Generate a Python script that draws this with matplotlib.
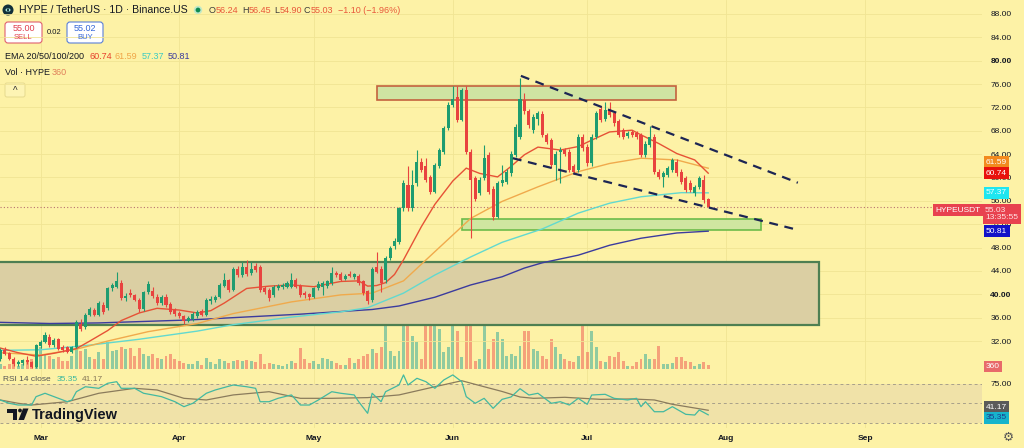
import numpy as np
import pandas as pd
import matplotlib
matplotlib.use("Agg")
import matplotlib.pyplot as plt
import matplotlib.dates as mdates
from matplotlib.patches import Rectangle, FancyBboxPatch, Circle, Polygon, Ellipse

plt.rcParams['font.family'] = ['Liberation Sans', 'DejaVu Sans']

# ---------------- data ----------------
START = "2025-02-20"
OPEN = [28.9, 30.5, 29.9, 29.0, 28.1, 28.2, 28.8, 28.4, 27.6, 31.2,
        31.9, 32.7, 31.3, 32.3, 31.0, 30.9, 30.2, 31.0, 35.0, 34.4,
        36.5, 37.3, 36.5, 38.2, 37.6, 41.0, 41.3, 42.0, 39.3, 40.3,
        39.8, 39.0, 37.4, 40.4, 40.6, 39.6, 38.5, 39.6, 38.3, 37.3,
        36.8, 36.3, 35.5, 35.8, 36.2, 37.2, 36.5, 38.8, 39.0, 39.6,
        41.5, 42.4, 40.7, 44.4, 43.3, 44.6, 43.6, 44.8, 44.7, 41.0,
        40.8, 39.8, 41.0, 41.2, 41.3, 41.3, 42.5, 41.5, 40.3, 40.0,
        39.6, 41.0, 41.3, 41.4, 41.9, 43.7, 43.5, 42.7, 43.4, 43.0,
        43.1, 42.2, 40.5, 39.0, 44.7, 44.4, 42.4, 46.2, 48.2, 49.0,
        54.7, 58.7, 54.7, 59.0, 62.7, 61.9, 60.1, 57.6, 61.9, 64.4,
        68.4, 72.4, 73.8, 69.9, 74.9, 64.4, 59.9, 57.4, 59.9, 63.9,
        58.1, 53.3, 59.0, 59.3, 60.7, 63.9, 67.0, 73.3, 71.3, 68.1,
        70.1, 70.9, 67.3, 66.4, 62.1, 64.4, 64.7, 64.4, 61.9, 61.3,
        67.0, 65.3, 62.4, 67.0, 71.8, 70.1, 71.6, 71.0, 69.6, 68.1,
        67.1, 67.8, 67.6, 67.3, 63.9, 65.6, 67.0, 61.0, 60.1, 60.4,
        61.3, 62.7, 61.0, 59.9, 59.0, 57.3, 58.4, 59.6, 56.24]
HIGH = [30.8, 30.9, 30.2, 29.2, 28.7, 28.9, 29.4, 28.6, 31.5, 32.2,
        33.6, 33.2, 32.5, 32.6, 31.3, 31.1, 31.2, 35.6, 35.8, 36.8,
        37.8, 37.6, 38.8, 38.6, 41.2, 42.0, 43.9, 42.5, 40.2, 40.9,
        40.1, 39.3, 40.6, 42.2, 41.2, 40.0, 39.8, 40.0, 38.6, 37.6,
        37.2, 36.5, 36.3, 36.9, 37.3, 37.5, 39.3, 39.7, 39.9, 41.9,
        43.6, 42.7, 44.6, 44.9, 45.6, 45.9, 45.5, 45.3, 45.0, 41.4,
        41.1, 41.6, 41.7, 41.9, 42.2, 43.6, 42.8, 41.8, 40.6, 40.3,
        41.3, 42.2, 42.2, 42.5, 44.7, 44.0, 43.8, 43.5, 44.0, 43.7,
        43.4, 42.5, 40.8, 44.7, 47.2, 44.8, 46.5, 48.3, 49.6, 55.0,
        59.5, 61.9, 61.3, 64.7, 63.3, 63.3, 60.5, 62.5, 65.1, 68.8,
        72.9, 75.6, 75.6, 75.4, 75.6, 64.8, 60.3, 60.0, 65.6, 64.3,
        58.5, 59.4, 62.2, 61.4, 64.5, 69.1, 77.0, 74.5, 71.8, 70.8,
        71.4, 71.3, 67.7, 66.8, 64.5, 65.2, 65.1, 64.8, 62.3, 67.4,
        67.4, 65.7, 67.4, 71.4, 72.2, 72.9, 73.0, 71.4, 70.0, 68.5,
        68.0, 68.2, 68.0, 67.7, 66.2, 68.9, 67.4, 61.4, 61.1, 62.0,
        63.4, 63.1, 61.4, 60.3, 59.6, 58.8, 60.3, 60.5, 56.45]
LOW = [28.6, 29.6, 28.7, 27.7, 27.8, 27.9, 28.0, 27.3, 27.4, 30.8,
       31.6, 31.0, 30.9, 30.5, 30.2, 29.9, 29.9, 30.8, 33.7, 34.1,
       36.2, 36.2, 36.3, 36.7, 37.3, 40.6, 41.0, 39.0, 38.8, 39.5,
       38.8, 37.0, 37.1, 40.1, 39.4, 38.2, 38.1, 37.9, 36.6, 36.2,
       35.9, 35.0, 35.2, 35.5, 35.9, 36.2, 36.3, 38.4, 38.6, 39.3,
       41.2, 40.4, 40.5, 43.0, 43.0, 43.2, 43.3, 43.8, 40.4, 40.1,
       38.9, 39.5, 40.7, 40.9, 41.0, 41.0, 41.0, 39.6, 39.4, 39.0,
       39.3, 40.7, 39.9, 41.1, 41.6, 43.0, 42.2, 42.4, 42.9, 42.7,
       41.6, 39.9, 38.3, 38.7, 43.6, 40.4, 42.0, 45.9, 47.8, 48.6,
       54.3, 54.3, 54.2, 58.6, 60.9, 59.2, 57.2, 57.3, 61.6, 64.1,
       68.1, 72.0, 69.5, 69.6, 64.0, 49.6, 56.0, 57.0, 59.5, 57.2,
       52.7, 53.0, 58.6, 58.9, 60.3, 63.5, 66.6, 70.9, 68.4, 67.7,
       69.0, 66.9, 65.7, 61.7, 59.6, 59.0, 63.7, 60.9, 60.6, 60.9,
       64.6, 62.0, 62.0, 66.6, 69.5, 69.7, 70.3, 68.9, 66.9, 66.6,
       66.7, 66.9, 66.6, 63.5, 63.5, 65.2, 60.6, 59.7, 58.4, 60.0,
       60.9, 60.3, 58.9, 57.5, 57.5, 56.9, 58.0, 55.7, 54.90]
CLOSE = [30.5, 29.8, 28.9, 28.0, 28.4, 28.7, 28.4, 27.6, 31.3, 31.9,
         33.0, 31.3, 32.2, 30.7, 30.5, 30.2, 31.0, 35.3, 34.0, 36.5,
         37.4, 36.5, 38.5, 37.0, 41.0, 41.6, 42.2, 39.3, 39.7, 39.8,
         39.0, 37.4, 40.4, 41.8, 39.7, 38.5, 39.5, 38.2, 36.9, 36.6,
         36.3, 35.4, 36.0, 36.6, 37.0, 36.5, 39.0, 39.2, 39.6, 41.6,
         42.4, 40.7, 44.4, 43.3, 44.7, 43.5, 44.4, 44.1, 40.7, 40.4,
         39.3, 41.3, 41.4, 41.6, 41.9, 42.5, 41.3, 39.9, 39.8, 39.5,
         41.0, 41.8, 41.9, 42.2, 43.6, 43.3, 42.5, 43.2, 43.1, 43.4,
         41.9, 40.2, 38.9, 44.3, 43.9, 41.9, 46.2, 47.9, 49.1, 54.7,
         59.0, 54.7, 58.7, 62.7, 61.3, 59.6, 57.6, 62.1, 64.7, 68.4,
         72.4, 73.5, 69.9, 75.0, 64.4, 59.6, 56.4, 59.6, 63.3, 57.6,
         53.3, 59.0, 59.6, 61.0, 64.1, 68.7, 73.5, 71.3, 69.0, 70.4,
         71.0, 67.3, 66.1, 62.1, 64.1, 64.7, 64.1, 61.3, 61.0, 67.0,
         65.0, 62.4, 67.0, 71.0, 69.9, 71.6, 70.7, 69.3, 67.3, 67.0,
         67.6, 67.3, 67.0, 63.9, 65.8, 67.0, 61.0, 60.1, 60.7, 61.6,
         63.0, 60.7, 59.3, 57.9, 57.9, 58.4, 59.9, 56.1, 55.03]
VOLUME = [450, 270, 450, 900, 270, 450, 630, 900, 1350, 1980,
          1350, 1170, 900, 1080, 720, 720, 1170, 2430, 1620, 1800,
          1080, 900, 1530, 900, 2430, 1620, 1710, 1980, 1800, 1890,
          1170, 1890, 1350, 1170, 1350, 990, 900, 1170, 1350, 900,
          720, 540, 450, 450, 720, 360, 990, 630, 450, 900,
          720, 540, 720, 810, 720, 810, 720, 630, 1350, 450,
          540, 450, 360, 270, 450, 720, 540, 1890, 900, 540,
          720, 450, 990, 900, 720, 540, 360, 360, 990, 540,
          900, 1170, 1350, 1800, 1440, 1980, 7380, 1620, 1170, 1620,
          8280, 8280, 2970, 2430, 900, 5850, 4950, 6480, 3600, 1530,
          1980, 7920, 3420, 1080, 7650, 7020, 720, 900, 5400, 1800,
          2700, 3330, 2700, 1170, 1350, 1170, 2070, 3420, 3420, 1800,
          1620, 1170, 900, 2700, 1980, 1350, 900, 720, 630, 1170,
          5670, 1530, 3420, 1980, 720, 630, 1170, 1080, 1530, 720,
          270, 270, 630, 900, 1350, 900, 900, 2070, 450, 450,
          540, 1080, 1080, 720, 630, 270, 450, 630, 360]

EMA20_DAYS = [0, 4, 8, 12, 17, 20, 24, 27, 31, 35, 40, 44, 47, 50, 55, 60, 65, 70, 76, 80,
              82, 84, 86, 88, 90, 94, 97, 101, 104, 107, 111, 114, 117, 120, 125, 129, 132,
              136, 141, 143, 147, 151, 155, 158]
EMA20_VALS = [30.8, 30.0, 29.4, 29.9, 30.7, 32.0, 33.8, 35.5, 36.8, 37.6, 37.3, 36.8, 37.2,
              38.5, 41.0, 41.4, 41.6, 41.3, 42.2, 42.3, 41.4, 41.5, 42.0, 43.4, 45.9, 51.6,
              55.4, 59.4, 61.6, 60.7, 60.1, 61.9, 63.9, 65.2, 64.7, 65.3, 66.4, 67.8, 68.1,
              67.3, 65.8, 64.1, 63.0, 60.74]
EMA50_DAYS = [0, 9, 17, 24, 33, 44, 52, 65, 76, 83, 90, 97, 105, 112, 120, 129, 136, 143, 151, 158]
EMA50_VALS = [30.0, 29.6, 30.6, 32.0, 33.6, 35.0, 36.7, 38.7, 39.9, 40.2, 42.3, 47.3, 53.0,
              55.9, 58.4, 61.0, 62.4, 63.3, 63.0, 61.59]
EMA100_DAYS = [0, 9, 20, 31, 44, 52, 65, 76, 82, 90, 97, 105, 112, 121, 129, 136, 143, 152, 158]
EMA100_VALS = [30.4, 30.5, 31.3, 32.3, 33.7, 34.8, 36.1, 37.0, 37.7, 40.2, 43.3, 46.4, 48.9,
               51.2, 53.9, 55.6, 56.7, 57.4, 57.37]
EMA200_DAYS = [0, 11, 22, 42, 67, 83, 89, 97, 105, 112, 117, 121, 129, 136, 143, 151, 158]
EMA200_VALS = [35.2, 35.0, 35.1, 35.6, 36.6, 37.4, 38.0, 39.5, 41.6, 43.0, 44.5, 45.4, 46.7,
               48.4, 49.6, 50.5, 50.81]

RSI_DAYS = [0, 2, 4, 7, 8, 10, 13, 15, 16, 17, 19, 22, 24, 26, 27, 30, 32, 34, 36, 39,
            41, 43, 46, 48, 52, 55, 57, 58, 60, 62, 65, 67, 69, 71, 74, 76, 79, 80, 82, 83,
            85, 86, 89, 90, 91, 93, 95, 97, 99, 101, 103, 104, 106, 108, 110, 112, 114, 116,
            118, 120, 123, 125, 127, 129, 131, 132, 135, 137, 140, 142, 143, 144, 146, 148,
            150, 153, 155, 156, 158]
RSI_VALS = [54.2, 50, 47.8, 47.8, 58.4, 62.7, 56.3, 52, 54.2, 64.7, 71, 69, 75.4, 77.4, 69,
            69, 62.7, 60.6, 58.4, 52, 45.7, 50, 62.7, 66.9, 73.2, 71, 69, 52, 52, 56.3, 60.6,
            47.8, 47.8, 54.2, 64.7, 62.7, 60.6, 52, 37.3, 62.7, 52, 64.7, 73.2, 86, 73.2,
            81.7, 77.4, 69, 79.6, 86, 77.4, 58.4, 50, 56.3, 43.6, 55, 58, 68.5, 60.5, 62.7,
            50, 52, 47.8, 56.3, 48.7, 60.5, 61.4, 56.3, 54.2, 56.3, 45.7, 52, 39.3, 39.3,
            45.7, 36, 35.1, 41.5, 35.35]
RSI_MA_DAYS = [0, 4, 7, 15, 22, 30, 35, 41, 46, 52, 60, 67, 74, 82, 89, 97, 103, 108, 112,
               116, 119, 126, 134, 141, 146, 150, 158]
RSI_MA_VALS = [54.2, 50, 47.8, 52, 62.7, 69, 66.9, 56.3, 54.2, 60.6, 64.7, 56.3, 56.3, 57.2,
               60.6, 71, 78.6, 71, 65, 58, 56.3, 57.6, 55, 55.5, 54.2, 48.7, 41.17]

MONTHS = ["2025-03-01", "2025-04-01", "2025-05-01", "2025-06-01", "2025-07-01",
          "2025-08-01", "2025-09-01"]
MONTH_LABELS = ["Mar", "Apr", "May", "Jun", "Jul", "Aug", "Sep"]
PRICE_TICKS = [32, 36, 40, 44, 48, 52, 56, 60, 64, 68, 72, 76, 80, 84, 88]

# drawings (day offset from START, price)
ZONE_TOP = (84.0, 150.8, 73.3, 75.7)
ZONE_MID = (103.1, 169.8, 51.0, 52.9)
ZONE_RANGE = (-5.0, 182.7, 34.74, 45.53)
TREND_UP = ((116.2, 77.4), (178.0, 59.1))
TREND_LO = ((114.4, 63.3), (177.6, 51.1))

# ---------------- style ----------------
BG = "#fdf2a6"
UP = "#1e9c70"
DN = "#e8433f"
W, H = 1024, 448

fig = plt.figure(figsize=(W / 100, H / 100), dpi=100, facecolor=BG)


def box(px0, py0, px1, py1):
    return [px0 / W, 1 - py1 / H, (px1 - px0) / W, (py1 - py0) / H]


vol_ax = fig.add_axes(box(0, 0, 982, 369), zorder=0)
ax = fig.add_axes(box(0, 0, 982, 369), zorder=1, sharex=vol_ax)
rsi_ax = fig.add_axes(box(0, 369, 982, 428), zorder=0, sharex=vol_ax)
vol_ax.set_facecolor(BG)
ax.set_facecolor("none")
rsi_ax.set_facecolor(BG)
for a in (vol_ax, ax, rsi_ax):
    for s in a.spines.values():
        s.set_visible(False)

base = mdates.date2num(pd.Timestamp(START))
dates = pd.date_range(START, periods=len(CLOSE), freq="D")
x = mdates.date2num(dates)
o, h, l, c = (np.array(v, dtype=float) for v in (OPEN, HIGH, LOW, CLOSE))
up = c >= o
col = np.where(up, UP, DN)

ax.set_xlim(base - 0.045, base + 219.1)
ax.set_ylim(27.21, 90.39)

# grid
month_nums = mdates.date2num(pd.to_datetime(MONTHS))
for t in PRICE_TICKS:
    ax.axhline(t, color="#f1e494", lw=0.6, zorder=0)
for m in month_nums:
    vol_ax.axvline(m, color="#f1e494", lw=0.6, zorder=0)
    rsi_ax.axvline(m, color="#f1e494", lw=0.6, zorder=0)

# volume
vcol = np.where(up, "#26a69a", "#ef5350")
vol_ax.bar(x, VOLUME, width=0.66, color=vcol, alpha=0.5, linewidth=0)
vol_ax.set_ylim(0, max(VOLUME) * 369 / 92)
vol_ax.set_yticks([])
vol_ax.tick_params(axis="x", length=0, labelbottom=False)

# zones
def zone(z, fc, ec, lw):
    ax.add_patch(Rectangle((base + z[0], z[2]), z[1] - z[0], z[3] - z[2],
                           facecolor=fc, edgecolor=ec, lw=lw, zorder=1))

zone(ZONE_RANGE, "#dbcfa3", "#4e7f52", 1.6)
zone(ZONE_TOP, "#cfe3a2", "#c4623e", 1.2)
zone(ZONE_MID, "#cfe6a0", "#6dbb4a", 1.2)

# EMAs
for days, vals, colr in ((EMA200_DAYS, EMA200_VALS, "#3b3b9e"),
                         (EMA100_DAYS, EMA100_VALS, "#62d9cf"),
                         (EMA50_DAYS, EMA50_VALS, "#f0aa4c"),
                         (EMA20_DAYS, EMA20_VALS, "#e65236")):
    ax.plot(base + np.array(days), vals, color=colr, lw=1.0, zorder=3)

# candles
ax.vlines(x, l, h, colors=col, lw=0.8, zorder=4)
ax.bar(x, np.maximum(np.abs(c - o), 0.08), bottom=np.minimum(o, c), width=0.68,
       color=col, linewidth=0, zorder=5)

# trend lines
for (p0, p1) in (TREND_UP, TREND_LO):
    ax.plot([base + p0[0], base + p1[0]], [p0[1], p1[1]], color="#1c2554", lw=1.6,
            dashes=(4, 3), zorder=6, solid_capstyle="butt", dash_capstyle="butt")

# last price line
ax.axhline(CLOSE[-1], color="#b77070", lw=0.8, ls=(0, (1, 2)), zorder=2)

# price axis
ax.yaxis.tick_right()
ax.set_yticks(PRICE_TICKS)
ax.set_yticklabels([f"{t:.2f}" for t in PRICE_TICKS])
ax.tick_params(axis="y", length=0, pad=6, labelsize=6, labelcolor="#131722")
ax.tick_params(axis="x", length=0, labelbottom=False)
for t, lab in zip(PRICE_TICKS, ax.get_yticklabels()):
    if t in (40, 80):
        lab.set_fontweight("bold")

PX_PT = 72 / 100


def tag(a, val, text, fc, tc, dy_px=0, ha="left", dx_px=2, size=6):
    a.annotate(text, xy=(1, val), xycoords=a.get_yaxis_transform(),
               xytext=(dx_px * PX_PT, dy_px * PX_PT), textcoords="offset points",
               ha=ha, va="center", fontsize=size, color=tc, zorder=20,
               annotation_clip=False,
               bbox=dict(boxstyle="square,pad=0.28", fc=fc, ec="none"))


tag(ax, EMA50_VALS[-1], "61.59", "#f28a1e", "white", dy_px=6.2, dx_px=4)
tag(ax, EMA20_VALS[-1], "60.74", "#e8120c", "white", dx_px=4)
tag(ax, EMA100_VALS[-1], "57.37", "#1ee6f0", "#f0ffff", dx_px=4)
tag(ax, EMA200_VALS[-1], "50.81", "#1212c8", "white", dx_px=4)
tag(ax, CLOSE[-1], "HYPEUSDT", "#e8424f", "white", dy_px=-3.5, ha="right", dx_px=-1.5)
ax.annotate("55.03\n13:35:55", xy=(1, CLOSE[-1]), xycoords=ax.get_yaxis_transform(),
            xytext=(3 * PX_PT, -7.5 * PX_PT), textcoords="offset points", ha="left",
            va="center", fontsize=6, color="#ffe4e4", linespacing=1.15, zorder=20,
            annotation_clip=False,
            bbox=dict(boxstyle="square,pad=0.3", fc="#e8424f", ec="none"))
tag(vol_ax, VOLUME[-1], f"{VOLUME[-1]}", "#e86a6a", "white", dy_px=-1.5, dx_px=4)

# ---------------- RSI pane ----------------
rsi_ax.set_ylim(18.65, 93.5)
rsi_ax.axhspan(25, 75, color="#f0e2a8", zorder=0, lw=0)
for lv in (75, 50, 25):
    rsi_ax.axhline(lv, color="#a8a08a", lw=0.7, dashes=(3, 3), zorder=1)
rsi_ax.plot(base + np.array(RSI_MA_DAYS), RSI_MA_VALS, color="#8a7b5c", lw=0.9, zorder=2)
rsi_ax.plot(base + np.array(RSI_DAYS), RSI_VALS, color="#43b9a0", lw=0.9, zorder=3)
rsi_ax.yaxis.tick_right()
rsi_ax.set_yticks([75])
rsi_ax.set_yticklabels(["75.00"])
rsi_ax.tick_params(axis="y", length=0, pad=6, labelsize=6, labelcolor="#131722")
rsi_ax.set_xticks(month_nums)
rsi_ax.set_xticklabels(MONTH_LABELS)
rsi_ax.tick_params(axis="x", length=0, pad=5, labelsize=6, labelcolor="#131722")
for lab in rsi_ax.get_xticklabels():
    lab.set_fontweight("bold")
tag(rsi_ax, RSI_MA_VALS[-1], "41.17", "#5a5a5a", "white", dy_px=3, dx_px=4)
tag(rsi_ax, RSI_VALS[-1], "35.35", "#16b4cc", "#1d3a8c", dy_px=-3, dx_px=4)

# ---------------- legend / overlays ----------------
DT = fig.dpi_scale_trans


def P(px, py):
    return (px / 100, (H - py) / 100)


def T(px, py, s, **kw):
    kw.setdefault("va", "center")
    kw.setdefault("fontsize", 6.5)
    kw.setdefault("color", "#131722")
    return fig.text(*P(px, py), s, transform=DT, **kw)


fig.add_artist(Circle(P(8, 10), 0.055, transform=DT, fc="#12303a", ec="none"))
fig.add_artist(Ellipse(P(8, 10), 0.05, 0.035, transform=DT, fc="#a8e8da", ec="none"))
fig.add_artist(Ellipse(P(8, 10), 0.02, 0.035, transform=DT, fc="#12303a", ec="none"))
T(19, 10, "HYPE / TetherUS · 1D · Binance.US", fontsize=7.6)
fig.add_artist(Circle(P(198, 10), 0.042, transform=DT, fc="#bfe8c8", ec="none"))
fig.add_artist(Circle(P(198, 10), 0.024, transform=DT, fc="#0e8a52", ec="none"))

RV = "#e8583a"
LC = "#3a3a3a"
for px, s, cc in ((209, "O", LC), (216, "56.24", RV), (242, "H", LC),
                  (248.5, "56.45", RV), (274.5, "L", LC), (279.5, "54.90", RV),
                  (304, "C", LC), (310.5, "55.03", RV),
                  (338, "\u22121.10 (\u22121.96%)", RV)):
    T(px, 10.5, s, color=cc, fontsize=6.5)

fig.add_artist(FancyBboxPatch(P(5, 43), 0.37, 0.21, transform=DT,
                              boxstyle="round,pad=0,rounding_size=0.03",
                              fc="white", ec="#e06070", lw=0.8))
fig.add_artist(FancyBboxPatch(P(67, 43), 0.36, 0.21, transform=DT,
                              boxstyle="round,pad=0,rounding_size=0.03",
                              fc="white", ec="#5a7fd8", lw=0.8))
T(23.5, 28, "55.00", ha="center", color="#e0404e", fontsize=6.5)
T(23.5, 37.5, "SELL", ha="center", color="#e0404e", fontsize=5.5)
T(54, 32.5, "0.02", ha="center", fontsize=5.5)
T(85, 28, "55.02", ha="center", color="#3466d8", fontsize=6.5)
T(85, 37.5, "BUY", ha="center", color="#3466d8", fontsize=5.5)

T(5, 56, "EMA 20/50/100/200", fontsize=6.5)
for px, s, cc in ((90, "60.74", "#e6402c"), (115, "61.59", "#f0a548"),
                  (142, "57.37", "#3ccbc2"), (168, "50.81", "#3a3a9e")):
    T(px, 56, s, color=cc, fontsize=6.5)
T(5, 72, "Vol \u00b7 HYPE", fontsize=6.5)
T(52, 72, "360", color="#e0805a", fontsize=6.5)
fig.add_artist(FancyBboxPatch(P(5, 97), 0.20, 0.14, transform=DT,
                              boxstyle="round,pad=0,rounding_size=0.02",
                              fc="#fdf4b4", ec="#e6da8e", lw=0.7))
T(15, 91, "^", ha="center", fontsize=7, color="#333333")

T(3, 379, "RSI 14 close", fontsize=6, color="#555555")
T(57, 379, "35.35", fontsize=6, color="#3bb89e")
T(82, 379, "41.17", fontsize=6, color="#857658")

# TradingView watermark
fig.add_artist(Polygon([P(7, 408.5), P(17, 408.5), P(17, 420), P(12.5, 420), P(12.5, 412.5),
                        P(7, 412.5)], closed=True, transform=DT, fc="#131722", ec="none"))
fig.add_artist(Circle(P(20, 410.5), 0.019, transform=DT, fc="#131722", ec="none"))
fig.add_artist(Polygon([P(23, 408.5), P(28.5, 408.5), P(24, 420), P(18.5, 420)],
                       closed=True, transform=DT, fc="#131722", ec="none"))
T(32, 414.5, "TradingView", fontsize=10.5, fontweight="bold", color="#131722")

T(1008, 437, "\u2699", ha="center", fontsize=9, color="#555555", family="DejaVu Sans")

fig.savefig("out.png", dpi=100, facecolor=BG)
